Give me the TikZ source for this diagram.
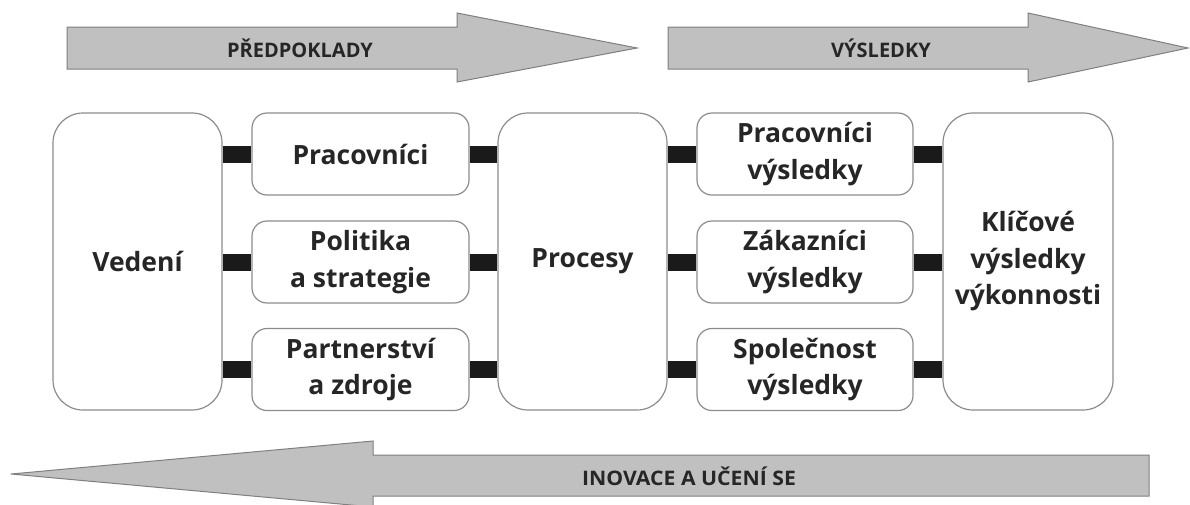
\documentclass[tikz,border=0pt]{standalone}
\usepackage{fontspec}
\setmainfont{Open Sans}
\definecolor{bandgray}{HTML}{C0C0C0}
\definecolor{banddraw}{HTML}{7F7F7F}
\definecolor{boxgray}{HTML}{8C8C8C}
\definecolor{connblack}{HTML}{1A1A1A}
\definecolor{txt}{HTML}{262626}
\begin{document}
\begin{tikzpicture}[x=1pt,y=-1pt,
  box/.style={draw=boxgray, line width=1.2pt, fill=white, rounded corners=15pt, align=center,
    font=\fontsize{26.5}{36.5}\selectfont\bfseries, text=txt, inner sep=0pt},
  bigbox/.style={box, rounded corners=30pt, minimum width=169pt, minimum height=297pt},
  smallbox/.style={box, minimum width=217pt, minimum height=82pt},
  conn/.style={line width=17pt, draw=connblack},
  band/.style={fill=bandgray, draw=banddraw, line width=1pt},
  bandtext/.style={font=\fontsize{20}{24}\selectfont\bfseries, text=txt}]
\useasboundingbox (0,0) rectangle (1190,504);
\clip (0,0) rectangle (1190,504);

% band arrows
\path[band] (67,27) -- (457,27) -- (457,13) -- (637,48) -- (457,82) -- (457,69) -- (67,69) -- cycle;
\path[band] (668,27) -- (1028,27) -- (1028,13) -- (1188,48) -- (1028,82) -- (1028,69) -- (668,69) -- cycle;
\path[band] (1149,455) -- (373,455) -- (373,441) -- (11,474) -- (373,507) -- (373,496) -- (1149,496) -- cycle;
\node[bandtext] (t1) at (300,48) {PŘEDPOKLADY};
\node[bandtext] (t2) at (881,48) {VÝSLEDKY};
\node[bandtext, xscale=1.06] (t3) at (689,476) {INOVACE A UČENÍ SE};

% boxes
\node[bigbox] (ved) at (137.5,261.5) {Vedení};
\node[smallbox] (p1) at (360.5,154) {Pracovníci};
\node[smallbox] (p2) at (360.5,262) {Politika\\a strategie};
\node[smallbox] (p3) at (360.5,369.5) {Partnerství\\a zdroje};
\node[bigbox] (proc) at (582.5,261.5) {Procesy};
\node[smallbox, minimum width=216pt] (r1) at (805,154) {Pracovníci\\výsledky};
\node[smallbox, minimum width=216pt] (r2) at (805,262) {Zákazníci\\výsledky};
\node[smallbox, minimum width=216pt] (r3) at (805,369.5) {Společnost\\výsledky};
\node[bigbox, minimum width=170pt] (kli) at (1028,261.5) {Klíčové\\výsledky\\výkonnosti};

% connectors
\foreach \n in {p1,p2,p3}{
  \draw[conn] (ved.east |- \n) -- (\n.west);
  \draw[conn] (\n.east) -- (proc.west |- \n);
}
\foreach \n in {r1,r2,r3}{
  \draw[conn] (proc.east |- \n) -- (\n.west);
  \draw[conn] (\n.east) -- (kli.west |- \n);
}
\end{tikzpicture}
\end{document}
